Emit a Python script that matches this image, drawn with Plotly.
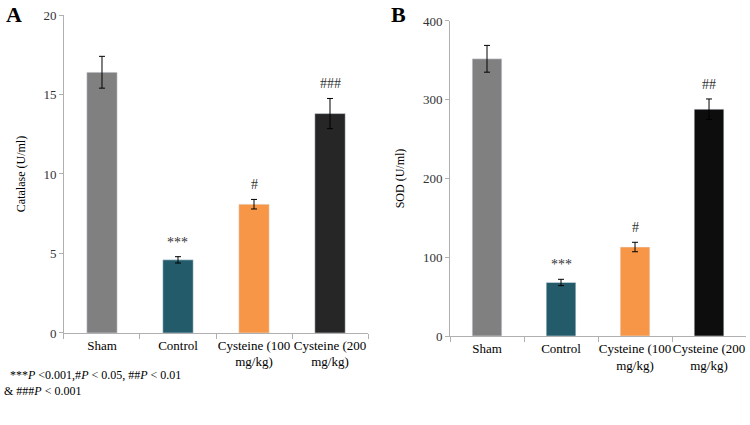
import plotly.graph_objects as go

groups = ["Sham", "Control", "Cysteine (100<br>mg/kg)", "Cysteine (200<br>mg/kg)"]
catalase = [16.4, 4.6, 8.1, 13.8]
catalase_err = [1.0, 0.2, 0.3, 0.95]
catalase_marks = ["", "***", "#", "###"]
sod = [352, 68, 113, 288]
sod_err = [17, 4, 6, 13]
sod_marks = ["", "***", "#", "##"]

colors_a = ["#808080", "#235B6A", "#F79646", "#262626"]
colors_b = ["#808080", "#235B6A", "#F79646", "#0D0D0D"]

SERIF = "Liberation Serif, Times New Roman, serif"
AXIS_GREY = "#B0B0B0"

fig = go.Figure()

fig.add_trace(go.Bar(
    x=groups, y=catalase, marker_color=colors_a, width=0.4,
    error_y=dict(type="data", array=catalase_err, color="black", thickness=1, width=3),
    xaxis="x", yaxis="y", showlegend=False,
))
fig.add_trace(go.Bar(
    x=groups, y=sod, marker_color=colors_b, width=0.4,
    error_y=dict(type="data", array=sod_err, color="black", thickness=1, width=3),
    xaxis="x2", yaxis="y2", showlegend=False,
))

# significance marks above the error bars
for xr, yr, vals, errs, marks in [("x", "y", catalase, catalase_err, catalase_marks),
                                  ("x2", "y2", sod, sod_err, sod_marks)]:
    for g, v, e, m in zip(groups, vals, errs, marks):
        if m:
            fig.add_annotation(x=g, y=v + e, xref=xr, yref=yr, text=m, showarrow=False,
                               yanchor="bottom", yshift=5,
                               font=dict(family=SERIF, size=14, color="#333"))

xaxis_common = dict(
    type="category", showline=True, linecolor=AXIS_GREY, linewidth=1,
    ticks="outside", tickson="boundaries", ticklen=5, tickcolor=AXIS_GREY,
    tickangle=0, showgrid=False, automargin=False, ticklabeloverflow="allow",
    tickfont=dict(family=SERIF, size=13, color="black"),
)
yaxis_common = dict(
    showline=True, linecolor=AXIS_GREY, linewidth=1, ticks="outside", ticklen=4,
    tickcolor=AXIS_GREY, showgrid=False, zeroline=False, automargin=False,
    tickfont=dict(family=SERIF, size=13, color="#333"),
)

fig.update_layout(
    width=750, height=425,
    margin=dict(l=0, r=0, t=0, b=0),
    paper_bgcolor="white", plot_bgcolor="white",
    font=dict(family=SERIF, size=12, color="black"),
    xaxis=dict(domain=[0.0853, 0.4907], anchor="y", **xaxis_common),
    yaxis=dict(domain=[0.2165, 0.9647], range=[0, 20], dtick=5, anchor="x",
               title=dict(text="Catalase (U/ml)", font=dict(family=SERIF, size=12)),
               **yaxis_common),
    xaxis2=dict(domain=[0.6, 0.9947], anchor="y2", **xaxis_common),
    yaxis2=dict(domain=[0.2094, 0.9506], range=[0, 400], dtick=100, anchor="x2",
                title=dict(text="SOD (U/ml)", font=dict(family=SERIF, size=12)),
                **yaxis_common),
)

fig.add_annotation(text="<b>A</b>", x=0.005, y=1.0, xref="paper", yref="paper",
                   xanchor="left", yanchor="top", showarrow=False,
                   font=dict(family=SERIF, size=22, color="black"))
fig.add_annotation(text="<b>B</b>", x=0.518, y=1.0, xref="paper", yref="paper",
                   xanchor="left", yanchor="top", showarrow=False,
                   font=dict(family=SERIF, size=22, color="black"))
fig.add_annotation(
    text="  ***<i>P</i> <0.001,#<i>P</i> < 0.05, ##<i>P</i> < 0.01<br>& ###<i>P</i> < 0.001",
    x=0.003, y=0.14, xref="paper", yref="paper", xanchor="left", yanchor="top",
    align="left", showarrow=False, font=dict(family=SERIF, size=12, color="black"),
)

# drop the browser's default body margin so the 750x425 figure fills the window
fig.write_html("out.html", config={"displayModeBar": False},
               post_script="document.body.style.margin = '0';")
